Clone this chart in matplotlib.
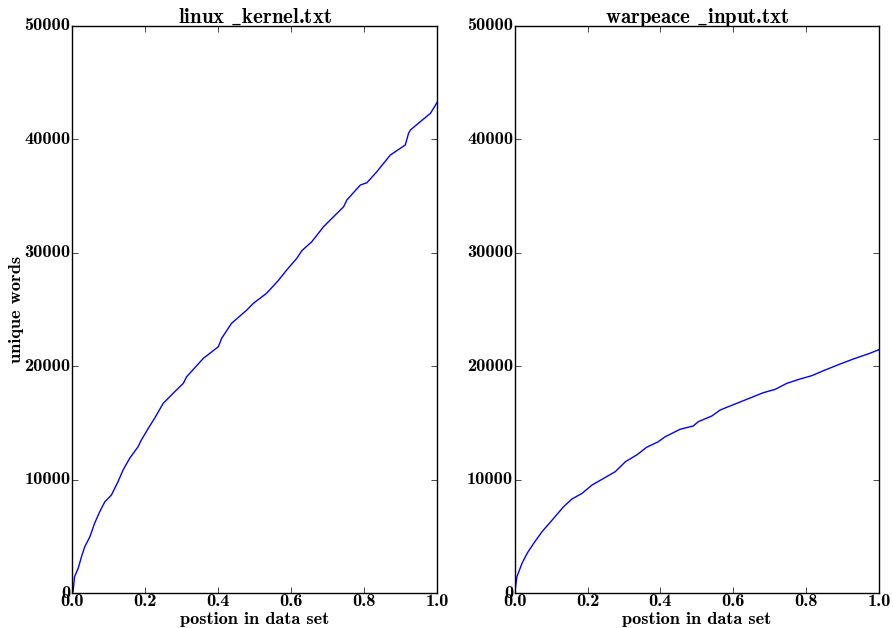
import matplotlib
matplotlib.use('Agg')
import matplotlib.pyplot as plt

# 스타일: classic + Computer Modern bold 글꼴
plt.style.use('classic')
plt.rcParams['font.family'] = ['cmb10', 'DejaVu Serif']
plt.rcParams['mathtext.fontset'] = 'cm'
plt.rcParams['font.size'] = 13.2
plt.rcParams['figure.facecolor'] = 'white'
plt.rcParams['savefig.facecolor'] = 'white'

# linux_kernel.txt 데이터
linux_x = [0.0, 0.003, 0.007, 0.017, 0.026, 0.035, 0.049, 0.062, 0.076, 0.090,
           0.108, 0.126, 0.140, 0.158, 0.181, 0.190, 0.209, 0.227, 0.250, 0.277,
           0.305, 0.314, 0.360, 0.401, 0.410, 0.437, 0.479, 0.497, 0.533, 0.565,
           0.588, 0.616, 0.630, 0.657, 0.689, 0.744, 0.753, 0.790, 0.808, 0.835,
           0.872, 0.913, 0.922, 0.927, 0.954, 0.982, 1.0]
linux_y = [0, 115, 1440, 2180, 3200, 4080, 4960, 6150, 7170, 8050,
           8640, 9810, 10850, 11880, 12900, 13490, 14520, 15450, 16730, 17610,
           18490, 19070, 20700, 21720, 22460, 23780, 24960, 25550, 26430, 27550,
           28480, 29520, 30200, 30980, 32300, 34060, 34660, 35980, 36180, 37150,
           38620, 39510, 40540, 40830, 41560, 42300, 43250]

# warpeace_input.txt 데이터
war_x = [0.0, 0.006, 0.020, 0.034, 0.052, 0.075, 0.107, 0.134, 0.157, 0.185,
         0.212, 0.249, 0.276, 0.304, 0.336, 0.362, 0.394, 0.413, 0.454, 0.490,
         0.504, 0.541, 0.564, 0.591, 0.637, 0.682, 0.715, 0.747, 0.783, 0.815,
         0.847, 0.893, 0.929, 0.975, 1.0]
war_y = [0, 1440, 2620, 3500, 4380, 5410, 6590, 7610, 8290, 8790,
         9520, 10200, 10700, 11580, 12200, 12850, 13340, 13780, 14440, 14730,
         15110, 15610, 16140, 16490, 17080, 17660, 17960, 18490, 18870, 19160,
         19600, 20190, 20630, 21140, 21460]

fig = plt.figure(figsize=(8.93, 6.28), dpi=100)
ax1 = fig.add_axes([0.0806, 0.0557, 0.4088, 0.9029])
ax2 = fig.add_axes([0.5764, 0.0557, 0.4079, 0.9029])

for ax, x, y, title in [(ax1, linux_x, linux_y, r'linux $\_$kernel.txt'),
                        (ax2, war_x, war_y, r'warpeace $\_$input.txt')]:
    ax.plot(x, y, color='blue', linewidth=1.0)
    ax.set_xlim(0, 1)
    ax.set_ylim(0, 50000)
    ax.set_title(title, fontsize=15, pad=2)
    ax.set_xlabel('postion in data set', labelpad=2)
    ax.tick_params(direction='in', top=True, right=True, length=4, pad=1)

ax1.set_ylabel('unique words', labelpad=0)

plt.savefig('out.png', dpi=100)
